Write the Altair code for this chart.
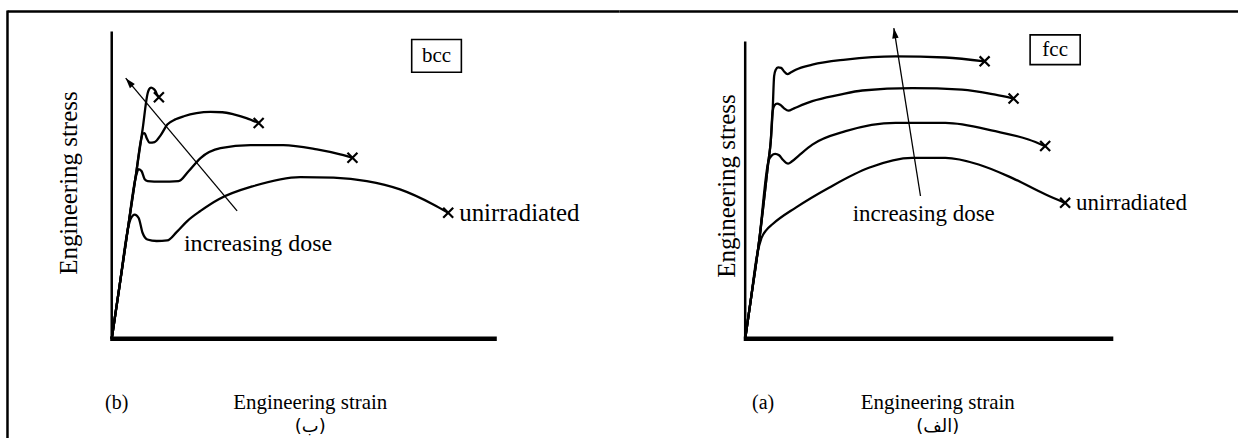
import math
import altair as alt
import pandas as pd

PANEL_W, PANEL_H = 620, 438
SERIF = "Liberation Serif"

# ---------------- data ----------------
# strain / stress expressed in % of the drawn axis length
# (b) bcc panel
bcc_unirr_strain = [0, 2.07, 4.15, 4.92, 5.96, 6.99, 8.03, 9.25, 11.66, 14.43, 16.84, 19.61, 23.06, 27.80, 36.87, 48.96, 57.59, 66.24, 74.87, 83.50, 87.38]
bcc_unirr_stress = [0, 17.5, 35.4, 39.0, 40.4, 39.3, 34.4, 32.3, 31.8, 32.0, 34.7, 38.3, 41.6, 45.4, 49.7, 52.6, 52.4, 51.3, 48.6, 43.7, 41.0]
bcc_dose1_strain = [0, 2.07, 4.15, 6.30, 6.99, 7.77, 8.55, 9.33, 12.69, 17.36, 19.95, 23.06, 28.24, 36.01, 44.56, 53.29, 59.33, 62.51]
bcc_dose1_stress = [0, 17.5, 35.4, 52.9, 55.2, 54.5, 51.9, 51.3, 51.1, 51.3, 54.5, 58.8, 62.0, 63.0, 63.0, 61.6, 60.0, 58.9]
bcc_dose2_strain = [0, 2.07, 4.15, 6.30, 7.64, 8.03, 8.55, 9.07, 9.84, 11.14, 12.69, 14.43, 16.58, 18.73, 22.02, 25.65, 28.76, 31.68, 34.97, 38.16]
bcc_dose2_stress = [0, 17.5, 35.4, 53.5, 64.9, 66.7, 66.9, 65.3, 63.8, 64.0, 66.2, 69.7, 71.4, 72.4, 73.4, 73.8, 73.7, 73.0, 71.8, 70.2]
bcc_dose3_strain = [0, 2.07, 4.15, 6.30, 8.00, 9.33, 9.72, 10.23, 10.88, 11.40, 11.79, 12.25]
bcc_dose3_stress = [0, 17.5, 35.4, 53.5, 68.0, 79.9, 81.2, 81.7, 81.3, 80.5, 79.4, 78.6]
bcc_arrow_from = [32.56, 41.6]
bcc_arrow_to = [3.63, 84.8]

# (a) fcc panel
fcc_unirr_strain = [0, 1.49, 3.20, 4.40, 5.80, 7.40, 13.74, 22.76, 33.60, 45.34, 54.39, 63.41, 72.44, 81.49, 86.91]
fcc_unirr_stress = [0, 12.8, 28.0, 33.8, 36.6, 38.5, 44.1, 50.8, 57.5, 60.8, 60.8, 58.6, 54.1, 48.6, 45.7]
fcc_dose1_strain = [0, 1.49, 3.79, 6.31, 7.18, 8.13, 9.21, 10.30, 11.65, 12.74, 14.63, 18.24, 27.29, 40.84, 54.39, 67.94, 76.96, 81.49]
fcc_dose1_stress = [0, 12.8, 32.9, 59.7, 61.6, 62.2, 61.7, 60.1, 58.9, 59.7, 61.7, 65.3, 69.8, 72.6, 72.6, 69.8, 67.0, 64.8]
fcc_dose2_strain = [0, 1.49, 3.79, 6.31, 6.94, 7.45, 7.95, 8.67, 9.49, 10.57, 11.73, 13.28, 18.24, 25.47, 31.79, 45.34, 58.89, 67.94, 72.90]
fcc_dose2_stress = [0, 12.8, 32.9, 59.7, 66.4, 76.5, 78.5, 79.1, 78.7, 77.5, 76.7, 77.5, 79.9, 82.0, 83.5, 84.3, 83.8, 82.1, 80.8]
fcc_dose3_strain = [0, 1.49, 3.79, 6.31, 6.94, 7.45, 7.86, 8.27, 8.94, 9.76, 10.57, 11.46, 12.47, 13.74, 18.24, 27.29, 40.84, 54.39, 65.04]
fcc_dose3_stress = [0, 12.8, 32.9, 59.7, 66.4, 76.5, 88.3, 90.4, 91.3, 91.1, 89.9, 89.0, 89.6, 90.5, 92.2, 93.9, 95.0, 94.6, 93.3]
fcc_arrow_from = [47.62, 48.0]
fcc_arrow_to = [40.38, 104.5]

curve_names = ["unirradiated", "dose 1", "dose 2", "dose 3"]
xaxis_len = [0, 100]
yaxis_len = [0, 100]

# ---------------- layout (pixels inside each 620x438 panel) ----------------
LEFT = dict(ox=111, oy=338, kx=3.86, ky=3.08,
            box=(77.9, 90.8, 97.4, 86.7), tag="bcc",
            dose_pos=(38.0, 30.8), dose_size=24, unirr_size=25,
            ylab_x=68, ylab_y=182, letter="(b)", letter_x=116,
            strain_x=310, caption="(ب)", caption_x=310, frame_left=6.5)
RIGHT = dict(ox=126, oy=338, kx=3.69, ky=2.98,
             box=(77.4, 91.0, 102.2, 92.2), tag="fcc",
             dose_pos=(48.5, 41.9), dose_size=23, unirr_size=23,
             ylab_x=108, ylab_y=185, letter="(a)", letter_x=144,
             strain_x=319, caption="(الف)", caption_x=319, frame_left=None)

XPATH = "M-1,-1L1,1M-1,1L1,-1"
HEAD = "M0,0L-1,3.2L1,3.2Z"


def make_panel(lay, curves, arrow_from, arrow_to):
    xs = alt.Scale(domain=[-lay["ox"] / lay["kx"], (PANEL_W - lay["ox"]) / lay["kx"]], nice=False, zero=False)
    ys = alt.Scale(domain=[-(PANEL_H - lay["oy"]) / lay["ky"], lay["oy"] / lay["ky"]], nice=False, zero=False)

    rows = []
    for name, s_list, t_list in curves:
        for i, (s, t) in enumerate(zip(s_list, t_list)):
            rows.append(dict(curve=name, i=i, strain=s, stress=t))
    df = pd.DataFrame(rows)
    ends = df.groupby("curve").tail(1)

    X = alt.X("strain:Q", scale=xs, axis=None)
    Y = alt.Y("stress:Q", scale=ys, axis=None)

    lines = alt.Chart(df).mark_line(interpolate="monotone", color="black", strokeWidth=2.3).encode(
        x=X, y=Y, detail="curve:N", order="i:Q")
    crosses = alt.Chart(ends).mark_point(shape=XPATH, size=100, filled=False, color="black",
                                         strokeWidth=2.2, opacity=1).encode(x=X, y=Y)
    unirr = alt.Chart(ends[ends.curve == "unirradiated"]).mark_text(
        align="left", baseline="middle", dx=11, font=SERIF, fontSize=lay["unirr_size"], color="black").encode(
        x=X, y=Y, text="curve:N")

    axes_df = pd.DataFrame({"s0": [xaxis_len[0] - 0.4, 0], "s1": [xaxis_len[1], 0],
                            "t0": [0, yaxis_len[0]], "t1": [0, yaxis_len[1]],
                            "w": ["x", "y"]})
    xaxis = alt.Chart(axes_df[axes_df.w == "x"]).mark_rule(color="black", strokeWidth=4.5).encode(
        x=alt.X("s0:Q", scale=xs, axis=None), x2="s1:Q",
        y=alt.Y("t0:Q", scale=ys, axis=None), y2="t1:Q")
    yaxis = alt.Chart(axes_df[axes_df.w == "y"]).mark_rule(color="black", strokeWidth=2.5).encode(
        x=alt.X("s0:Q", scale=xs, axis=None), x2="s1:Q",
        y=alt.Y("t0:Q", scale=ys, axis=None), y2="t1:Q")

    # arrow
    arr_df = pd.DataFrame({"s0": [arrow_from[0]], "t0": [arrow_from[1]],
                           "s1": [arrow_to[0]], "t1": [arrow_to[1]]})
    dxp = (arrow_to[0] - arrow_from[0]) * lay["kx"]
    dyp = -(arrow_to[1] - arrow_from[1]) * lay["ky"]
    ang = (math.degrees(math.atan2(dxp, -dyp)) + 360) % 360
    arrow_line = alt.Chart(arr_df).mark_rule(color="black", strokeWidth=1.3).encode(
        x=alt.X("s0:Q", scale=xs, axis=None), x2="s1:Q",
        y=alt.Y("t0:Q", scale=ys, axis=None), y2="t1:Q")
    arrow_head = alt.Chart(arr_df).mark_point(shape=HEAD, size=42, filled=True, color="black",
                                              opacity=1, angle=ang).encode(
        x=alt.X("s1:Q", scale=xs, axis=None), y=alt.Y("t1:Q", scale=ys, axis=None))
    dose_df = pd.DataFrame({"s": [lay["dose_pos"][0]], "t": [lay["dose_pos"][1]], "label": ["increasing dose"]})
    dose_txt = alt.Chart(dose_df).mark_text(font=SERIF, fontSize=lay["dose_size"], color="black",
                                            baseline="middle").encode(
        x=alt.X("s:Q", scale=xs, axis=None), y=alt.Y("t:Q", scale=ys, axis=None), text="label:N")

    # crystal-structure tag box
    b = lay["box"]
    box_df = pd.DataFrame({"s0": [b[0]], "s1": [b[1]], "t0": [b[2]], "t1": [b[3]],
                           "sm": [(b[0] + b[1]) / 2], "tm": [(b[2] + b[3]) / 2], "tag": [lay["tag"]]})
    box = alt.Chart(box_df).mark_rect(fill="white", stroke="black", strokeWidth=1.6).encode(
        x=alt.X("s0:Q", scale=xs, axis=None), x2="s1:Q",
        y=alt.Y("t0:Q", scale=ys, axis=None), y2="t1:Q")
    box_txt = alt.Chart(box_df).mark_text(font=SERIF, fontSize=21, color="black", baseline="middle").encode(
        x=alt.X("sm:Q", scale=xs, axis=None), y=alt.Y("tm:Q", scale=ys, axis=None), text="tag:N")

    one = pd.DataFrame({"k": [0]})
    ylab = alt.Chart(one).mark_text(font=SERIF, fontSize=25, angle=270, color="black", baseline="middle").encode(
        x=alt.value(lay["ylab_x"]), y=alt.value(lay["ylab_y"]), text=alt.value("Engineering stress"))
    xlab = alt.Chart(one).mark_text(font=SERIF, fontSize=21, color="black", baseline="middle").encode(
        x=alt.value(lay["strain_x"]), y=alt.value(402), text=alt.value("Engineering strain"))
    letter = alt.Chart(one).mark_text(font=SERIF, fontSize=20, color="black", baseline="middle").encode(
        x=alt.value(lay["letter_x"]), y=alt.value(402), text=alt.value(lay["letter"]))
    caption = alt.Chart(one).mark_text(font="DejaVu Sans", fontSize=18, color="black", baseline="middle").encode(
        x=alt.value(lay["caption_x"]), y=alt.value(427), text=alt.value(lay["caption"]))

    frame_top = alt.Chart(one).mark_rule(color="black", strokeWidth=2.5).encode(
        x=alt.value(lay["frame_left"] if lay["frame_left"] is not None else 0),
        x2=alt.value(PANEL_W), y=alt.value(10))
    layers = [frame_top]
    if lay["frame_left"] is not None:
        frame_left = alt.Chart(one).mark_rule(color="black", strokeWidth=2.5).encode(
            x=alt.value(lay["frame_left"]), y=alt.value(9), y2=alt.value(PANEL_H))
        layers.append(frame_left)

    layers += [yaxis, xaxis, lines, crosses, unirr, arrow_line, arrow_head, dose_txt,
               box, box_txt, ylab, xlab, letter, caption]
    return alt.layer(*layers).properties(width=PANEL_W, height=PANEL_H)


bcc_curves = [
    (curve_names[0], bcc_unirr_strain, bcc_unirr_stress),
    (curve_names[1], bcc_dose1_strain, bcc_dose1_stress),
    (curve_names[2], bcc_dose2_strain, bcc_dose2_stress),
    (curve_names[3], bcc_dose3_strain, bcc_dose3_stress),
]
fcc_curves = [
    (curve_names[0], fcc_unirr_strain, fcc_unirr_stress),
    (curve_names[1], fcc_dose1_strain, fcc_dose1_stress),
    (curve_names[2], fcc_dose2_strain, fcc_dose2_stress),
    (curve_names[3], fcc_dose3_strain, fcc_dose3_stress),
]

left = make_panel(LEFT, bcc_curves, bcc_arrow_from, bcc_arrow_to)
right = make_panel(RIGHT, fcc_curves, fcc_arrow_from, fcc_arrow_to)

chart = alt.hconcat(left, right, spacing=0, bounds="flush").properties(
    padding=0, background="white"
).configure_view(stroke="transparent")

chart.save("out.html", embed_options={"renderer": "svg", "actions": False})
